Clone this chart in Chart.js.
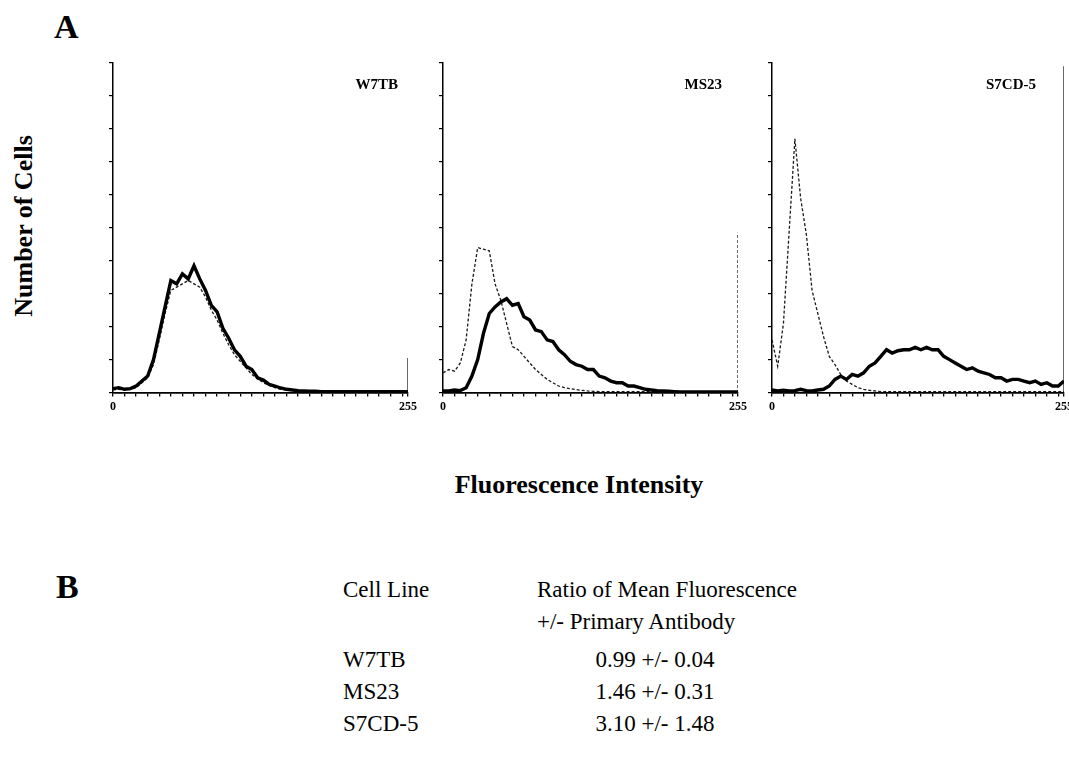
<!DOCTYPE html>
<html>
<head>
<meta charset="utf-8">
<script src="https://cdn.jsdelivr.net/npm/chart.js@4/dist/chart.umd.min.js"></script>
<style>
  html, body { margin: 0; padding: 0; background: #fff; }
  body { width: 1069px; height: 758px; position: relative; overflow: hidden; font-family: "Liberation Serif", "Times New Roman", serif; color: #000; }
  canvas { position: absolute; }
  .t { position: absolute; white-space: nowrap; line-height: 1; }
</style>
</head>
<body>
<canvas id="p1"></canvas>
<canvas id="p2"></canvas>
<canvas id="p3"></canvas>

<script>
// fluorescence channels (0-255), 255 repeated so the last-channel pile-up draws as a vertical spike
const channels = [
  0, 5, 10, 15, 20, 25, 30, 35, 40, 45,
  50, 55, 60, 65, 70, 75, 80, 85, 90, 95,
  100, 105, 110, 115, 120, 125, 130, 135, 140, 145,
  150, 155, 160, 165, 170, 175, 180, 185, 190, 195,
  200, 205, 210, 215, 220, 225, 230, 235, 240, 245,
  250, 255, 255
];

// number of cells, in y-tick units (axis 0-10)
const w7tbStained = [
  0.12, 0.15, 0.1, 0.12, 0.2, 0.35, 0.5, 1.0, 1.8, 2.6,
  3.4, 3.3, 3.6, 3.45, 3.85, 3.45, 3.1, 2.65, 2.45, 1.95,
  1.65, 1.3, 1.1, 0.8, 0.7, 0.45, 0.38, 0.25, 0.2, 0.14,
  0.1, 0.08, 0.06, 0.05, 0.04, 0.04, 0.03, 0.03, 0.03, 0.03,
  0.03, 0.03, 0.03, 0.03, 0.03, 0.03, 0.03, 0.03, 0.03, 0.03,
  0.03, 0.03, 0.03
];
const w7tbControl = [
  0.08, 0.1, 0.08, 0.1, 0.15, 0.3, 0.45, 0.85, 1.6, 2.4,
  3.1, 3.2, 3.3, 3.4, 3.3, 3.2, 2.9, 2.5, 2.2, 1.8,
  1.45, 1.15, 0.95, 0.75, 0.55, 0.42, 0.3, 0.22, 0.15, 0.1,
  0.08, 0.06, 0.05, 0.03, 0.03, 0.03, 0.03, 0.03, 0.03, 0.03,
  0.03, 0.03, 0.03, 0.03, 0.03, 0.03, 0.03, 0.03, 0.03, 0.03,
  0.03, 0.03, 1.05
];
const ms23Stained = [
  0.05, 0.05, 0.08, 0.06, 0.15, 0.5, 1.0, 1.8, 2.4, 2.6,
  2.75, 2.85, 2.65, 2.7, 2.3, 2.2, 1.9, 1.85, 1.6, 1.55,
  1.3, 1.15, 0.95, 0.85, 0.8, 0.7, 0.7, 0.5, 0.45, 0.35,
  0.3, 0.3, 0.2, 0.2, 0.15, 0.1, 0.08, 0.06, 0.05, 0.04,
  0.03, 0.02, 0.02, 0.02, 0.02, 0.02, 0.02, 0.02, 0.02, 0.02,
  0.02, 0.02, 0.02
];
const ms23Control = [
  0.6, 0.7, 0.65, 0.9, 1.6, 3.3, 4.4, 4.35, 4.3, 3.3,
  2.8, 2.1, 1.4, 1.3, 1.1, 0.9, 0.7, 0.55, 0.4, 0.3,
  0.2, 0.15, 0.12, 0.09, 0.07, 0.05, 0.04, 0.03, 0.03, 0.03,
  0.03, 0.03, 0.03, 0.03, 0.03, 0.03, 0.03, 0.03, 0.03, 0.03,
  0.03, 0.03, 0.03, 0.03, 0.03, 0.03, 0.03, 0.03, 0.03, 0.03,
  0.03, 0.03, 4.85
];
const s7cdStained = [
  0.08, 0.05, 0.07, 0.05, 0.06, 0.1, 0.06, 0.05, 0.08, 0.1,
  0.2, 0.4, 0.5, 0.4, 0.55, 0.5, 0.6, 0.8, 0.9, 1.1,
  1.3, 1.2, 1.27, 1.3, 1.3, 1.37, 1.3, 1.37, 1.3, 1.3,
  1.1, 1.0, 0.9, 0.8, 0.7, 0.75, 0.65, 0.6, 0.55, 0.45,
  0.45, 0.35, 0.4, 0.4, 0.35, 0.3, 0.35, 0.25, 0.3, 0.2,
  0.2, 0.35, 0.35
];
const s7cdControl = [
  1.6, 0.8, 2.1, 4.9, 7.7, 5.9, 4.8, 3.1, 2.4, 1.7,
  1.1, 0.85, 0.55, 0.35, 0.25, 0.15, 0.1, 0.07, 0.05, 0.03,
  0.03, 0.03, 0.03, 0.03, 0.03, 0.03, 0.03, 0.03, 0.03, 0.03,
  0.03, 0.03, 0.03, 0.03, 0.03, 0.03, 0.03, 0.03, 0.03, 0.03,
  0.03, 0.03, 0.03, 0.03, 0.03, 0.03, 0.03, 0.03, 0.03, 0.03,
  0.03, 0.03, 9.9
];

const xTicks = [0, 10, 20, 30, 40, 50, 60, 70, 80, 90, 100, 110, 120, 130, 140, 150,
  160, 170, 180, 190, 200, 210, 220, 230, 240, 250, 255];
const xTickLabels = { 0: '0', 255: '255' };

const cellLines = ['W7TB', 'MS23', 'S7CD-5'];
const ratios = ['0.99 +/- 0.04', '1.46 +/- 0.31', '3.10 +/- 1.48'];

const serif = '"Liberation Serif", "Times New Roman", serif';

function pts(ys) {
  return channels.map((x, i) => ({ x: x, y: ys[i] }));
}

function makePanel(id, left, right, stained, control, spikeDashed) {
  const cv = document.getElementById(id);
  const w = (right - left) + 14 + 24;
  const h = 372;
  cv.style.left = (left - 14) + 'px';
  cv.style.top = '53px';
  cv.width = w;
  cv.height = h;
  cv.style.width = w + 'px';
  cv.style.height = h + 'px';

  new Chart(cv, {
    type: 'line',
    data: {
      datasets: [{
        data: pts(stained),
        borderColor: '#000',
        borderWidth: 3.4,
        pointRadius: 0,
        tension: 0
      }, {
        data: pts(control),
        borderColor: '#1a1a1a',
        borderWidth: 1.3,
        borderDash: [3, 2],
        pointRadius: 0,
        tension: 0,
        segment: {
          borderDash: ctx => (ctx.p0.parsed.x === ctx.p1.parsed.x && !spikeDashed) ? [] : undefined
        }
      }]
    },
    options: {
      responsive: false,
      animation: false,
      layout: { padding: { left: 10, top: 10, right: 24, bottom: 8 } },
      plugins: { legend: { display: false }, tooltip: { enabled: false } },
      scales: {
        x: {
          type: 'linear',
          min: 0,
          max: 255,
          afterBuildTicks: axis => { axis.ticks = xTicks.map(v => ({ value: v })); },
          ticks: {
            autoSkip: false,
            maxRotation: 0,
            padding: 3,
            color: '#000',
            font: { family: serif, size: 12, weight: 'bold' },
            callback: v => xTickLabels[v] || ''
          },
          grid: { drawOnChartArea: false, tickLength: 4, color: '#000', lineWidth: 1.3 },
          border: { color: '#000', width: 1.8 }
        },
        y: {
          min: 0,
          max: 10,
          ticks: { stepSize: 1, display: false },
          grid: { drawOnChartArea: false, tickLength: 4, color: '#000', lineWidth: 1.2 },
          border: { color: '#000', width: 1.5 }
        }
      }
    }
  });
}

makePanel('p1', 113, 408, w7tbStained, w7tbControl, false);
makePanel('p2', 443, 738, ms23Stained, ms23Control, true);
makePanel('p3', 772, 1064, s7cdStained, s7cdControl, false);

// text placed by baseline
function label(text, x, baseline, size, opts) {
  opts = opts || {};
  const el = document.createElement('div');
  el.className = 't';
  el.textContent = text;
  el.style.fontSize = size + 'px';
  el.style.fontWeight = opts.bold ? 'bold' : 'normal';
  el.style.left = x + 'px';
  el.style.top = (baseline - 0.8375 * size) + 'px';
  if (opts.align === 'center') el.style.transform = 'translateX(-50%)';
  if (opts.align === 'right') el.style.transform = 'translateX(-100%)';
  document.body.appendChild(el);
  return el;
}

label('A', 54, 38, 34, { bold: true });
label('B', 56, 598, 34, { bold: true });

label('W7TB', 398, 90, 15, { bold: true, align: 'right' });
label('MS23', 722, 90, 15, { bold: true, align: 'right' });
label('S7CD-5', 1036, 90, 15, { bold: true, align: 'right' });

const yTitle = label('Number of Cells', 11, 0, 26, { bold: true });
yTitle.style.transformOrigin = '0 0';
yTitle.style.top = '226px';
yTitle.style.transform = 'rotate(-90deg) translateX(-50%)';

label('Fluorescence Intensity', 579, 494, 26, { bold: true, align: 'center' });

label('Cell Line', 343, 597, 23);
label('Ratio of Mean Fluorescence', 537, 597, 23);
label('+/- Primary Antibody', 537, 629, 23);
cellLines.forEach((c, i) => {
  label(c, 343, 667 + i * 32, 23);
  label(ratios[i], 655, 667 + i * 32, 23, { align: 'center' });
});
</script>
</body>
</html>
